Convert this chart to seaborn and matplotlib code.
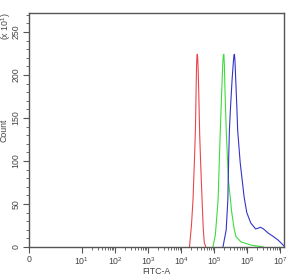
import numpy as np
import pandas as pd
import matplotlib
matplotlib.use("Agg")
import matplotlib.pyplot as plt
import seaborn as sns
from matplotlib.ticker import FixedLocator, FuncFormatter, MultipleLocator

# FITC-A intensity and count (x10^1)
red_fitc = [1.80e4, 2.07e4, 2.30e4, 2.54e4, 2.72e4, 2.85e4, 2.95e4, 3.03e4,
            3.11e4, 3.20e4, 3.31e4, 3.47e4, 3.66e4, 3.98e4, 4.32e4, 4.71e4,
            5.05e4, 5.60e4]
red_count = [0, 26, 55, 101, 136, 182, 212, 223, 224, 219, 203, 171, 130, 90,
             55, 20, 5, 0]

green_fitc = [9.2e4, 1.09e5, 1.32e5, 1.52e5, 1.70e5, 1.82e5, 1.90e5, 1.97e5,
              2.04e5, 2.14e5, 2.32e5, 2.71e5, 3.42e5, 4.0e5, 4.59e5, 6.46e5,
              1.28e6, 3.11e6]
green_count = [0, 14, 55, 130, 182, 212, 223, 224, 212, 180, 136, 78, 40, 22,
               12, 6, 2.3, 0]

blue_fitc = [1.85e5, 2.32e5, 2.60e5, 2.75e5, 2.90e5, 3.11e5, 3.49e5, 3.80e5,
             3.98e5, 4.12e5, 4.28e5, 4.50e5, 4.91e5, 5.15e5, 6.15e5, 8.09e5,
             9.73e5, 1.28e6, 1.80e6, 2.21e6, 2.53e6, 3.11e6, 4.38e6, 5.75e6,
             8.67e6, 1.22e7, 1.31e7]
blue_count = [0, 20, 55, 101, 136, 160, 194, 214, 223, 224, 216, 195, 159, 136,
              98, 58, 40, 28, 21, 22, 23, 21, 16, 13, 8, 2.3, 1]

x_ticks = [0, 1e1, 1e2, 1e3, 1e4, 1e5, 1e6, 1e7]
x_labels = ["0", "$10^1$", "$10^2$", "$10^3$", "$10^4$", "$10^5$", "$10^6$", "$10^7$"]

df = pd.concat([
    pd.DataFrame({"FITC-A": red_fitc, "Count": red_count, "sample": "red"}),
    pd.DataFrame({"FITC-A": green_fitc, "Count": green_count, "sample": "green"}),
    pd.DataFrame({"FITC-A": blue_fitc, "Count": blue_count, "sample": "blue"}),
])

sns.set_style("ticks")
plt.rcParams['font.family'] = ['Liberation Sans', 'DejaVu Sans']
plt.rcParams['mathtext.fontset'] = 'custom'
plt.rcParams['mathtext.rm'] = 'Liberation Sans'

fig = plt.figure(figsize=(2.91, 2.75), dpi=100)
ax = fig.add_axes([29 / 291, 1 - 247 / 275, 255 / 291, 234 / 275])

palette = {"red": "#e8474f", "green": "#3ddc3d", "blue": "#3434c8"}
sns.lineplot(data=df, x="FITC-A", y="Count", hue="sample", palette=palette,
             sort=False, estimator=None, lw=0.8, legend=False, ax=ax)

ax.set_xscale("symlog", linthresh=10, linscale=1.44)
ax.set_xlim(0, 1.3e7)
ax.set_ylim(0, 272)

ax.xaxis.set_major_locator(FixedLocator(x_ticks))
ax.set_xticklabels(x_labels)
minors = [k * 10 ** d for d in range(1, 7) for k in range(2, 10)]
ax.xaxis.set_minor_locator(FixedLocator(minors))

ax.yaxis.set_major_locator(MultipleLocator(50))
ax.yaxis.set_minor_locator(MultipleLocator(10))
ax.yaxis.set_major_formatter(FuncFormatter(lambda y, _: f"{y:.0f}"))
for lab in ax.get_yticklabels():
    lab.set_rotation(90)
    lab.set_va("center")

txt = "#444444"
ax.tick_params(which="major", length=4, width=0.8, color="#555555",
               labelsize=6.3, labelcolor=txt, pad=2)
ax.tick_params(which="minor", length=2.5, width=0.6, color="#555555")
for s in ax.spines.values():
    s.set_color("#555555")
    s.set_linewidth(1.0)

ax.set_xlabel("FITC-A", fontsize=6.3, color=txt, labelpad=0)
ax.set_ylabel("Count", fontsize=6.3, color=txt, labelpad=2)
fig.text(6 / 291, 1 - 26 / 275, "(x 10$^1$)", rotation=90, fontsize=6.3,
         color=txt, ha="center", va="center")

fig.savefig("out.png", dpi=100)
